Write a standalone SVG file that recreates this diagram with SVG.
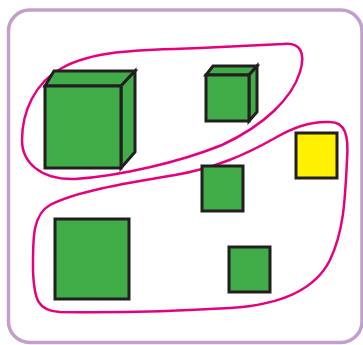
<svg xmlns="http://www.w3.org/2000/svg" width="363" height="345" viewBox="0 0 363 345">
<style>
.g{fill:#41ad49;stroke:#231f20;stroke-width:3;stroke-linejoin:miter}
.y{fill:#fff100;stroke:#231f20;stroke-width:3}
.loop{fill:none;stroke:#e6007e;stroke-width:2.5}
</style>
<rect x="0" y="0" width="363" height="345" fill="#ffffff"/>
<rect x="8.5" y="10" width="353.5" height="332.5" rx="21" fill="none" stroke="#c39fcb" stroke-width="3.5"/>
<g id="loops">
<path class="loop" d="M283,44 C300,42 306,52 300,72 C292,98 265,125 222,145 C180,162 120,176 75,179 C40,180 22,162 22,140 C22,112 35,82 62,68 C95,50 140,50 200,48 Z"/>
<path class="loop" d="M330,122 C345,122 349,135 347,160 C345,200 344,230 330,260 C315,290 280,305 230,308 C180,311 120,313 60,312 C38,311 34,300 33,270 C33,240 32,215 50,205 C75,192 120,184 175,175 C215,168 245,155 275,138 C295,126 312,121 330,122 Z"/>
</g>
<g id="cube-big">
<polygon class="g" points="45,86 54,71 135,71 121,86"/>
<polygon class="g" points="121,86 135,71 135,152 121,168"/>
<rect class="g" x="45" y="86" width="76" height="82"/>
</g>
<g id="cube-small">
<polygon class="g" points="206,75 213,66 257,66 249,75"/>
<polygon class="g" points="249,75 257,66 257,112 249,121"/>
<rect class="g" x="206" y="75" width="43" height="46"/>
</g>
<g id="square-yellow"><rect class="y" x="296" y="133" width="41" height="45"/></g>
<g id="square-mid"><rect class="g" x="202" y="166" width="41" height="45"/></g>
<g id="square-big"><rect class="g" x="55" y="219" width="74" height="80"/></g>
<g id="square-low"><rect class="g" x="229" y="247" width="41" height="45"/></g>
</svg>
